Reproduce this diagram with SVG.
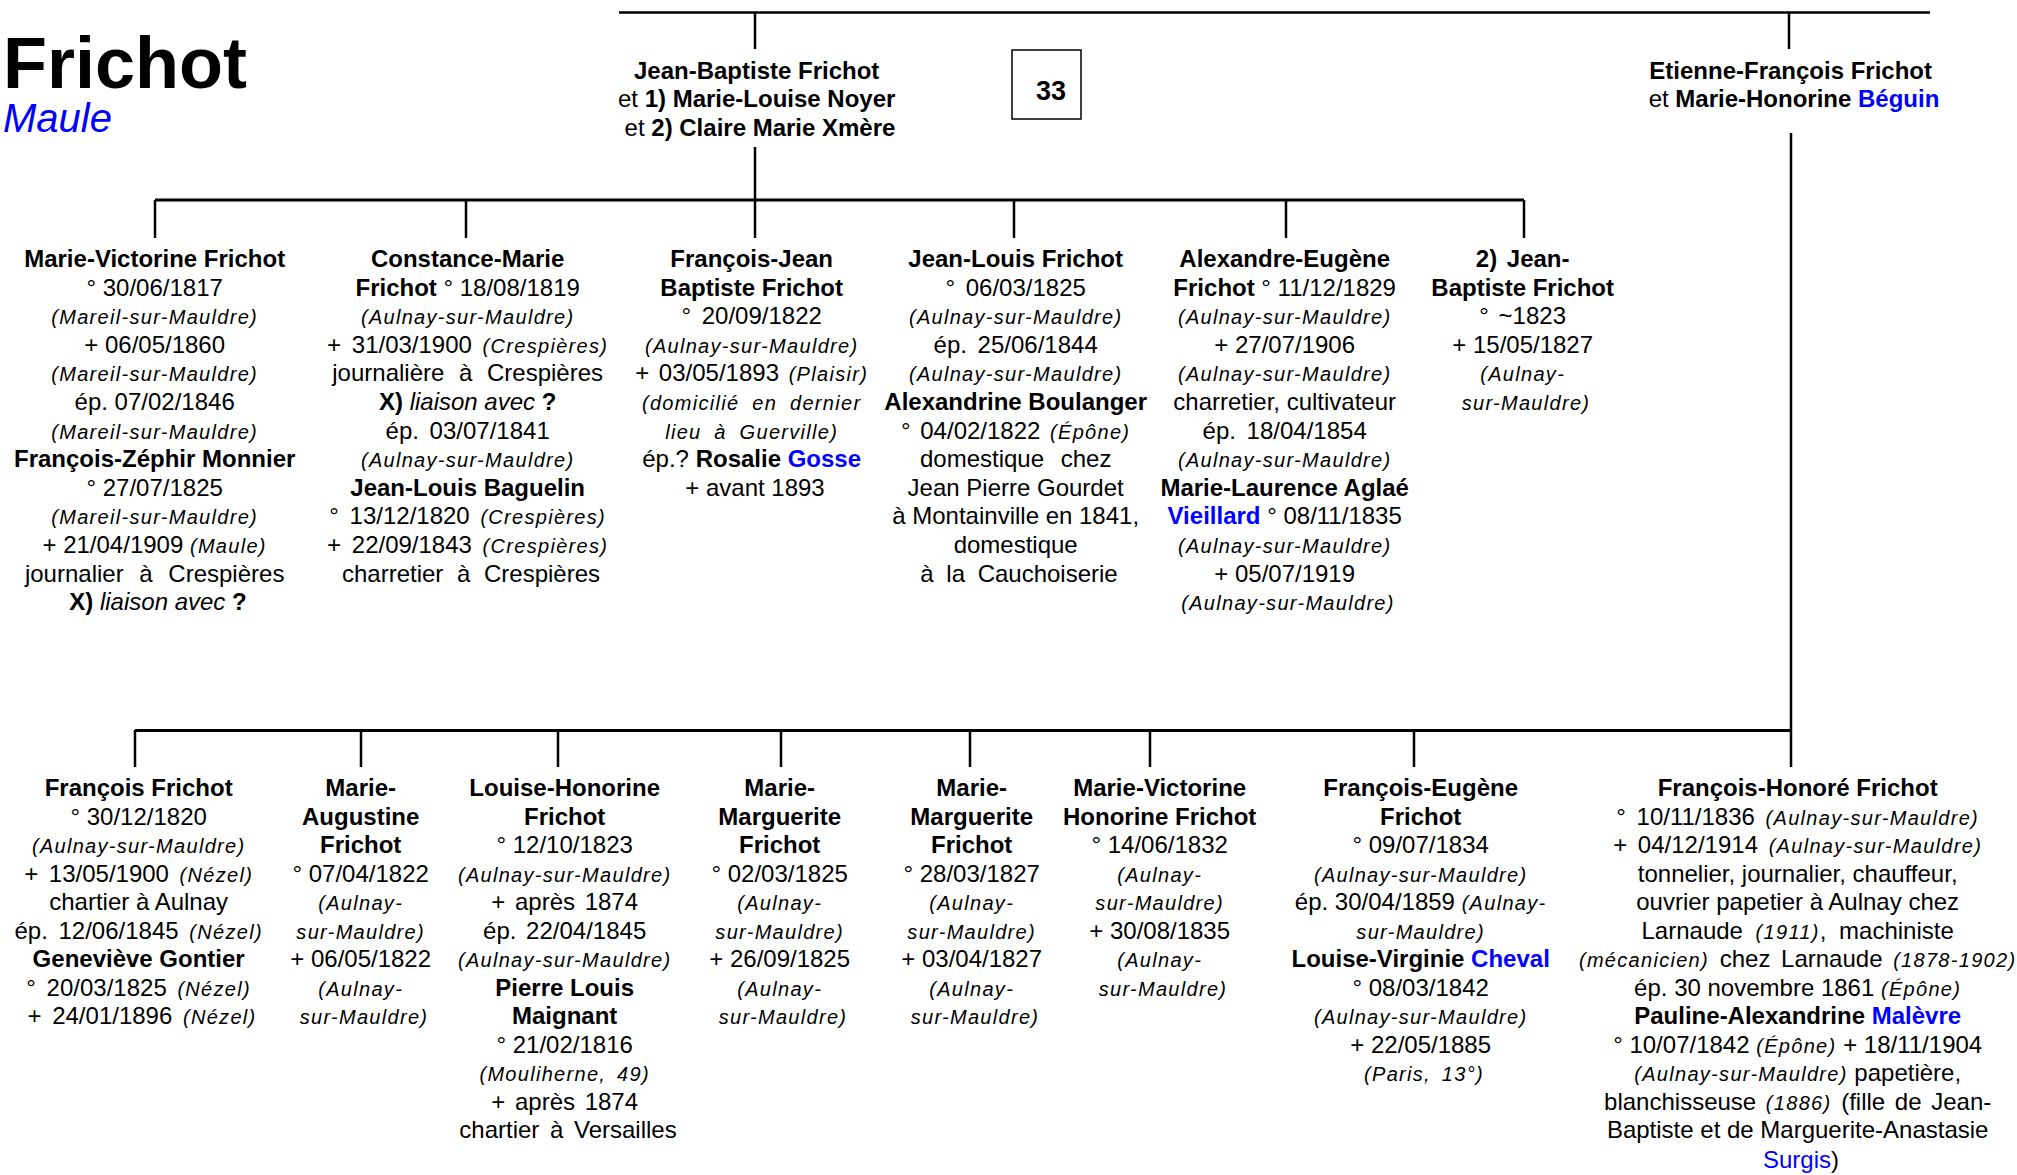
<svg xmlns="http://www.w3.org/2000/svg" width="2017" height="1175" viewBox="0 0 2017 1175">
<style>
text{font-family:"Liberation Sans",Arial,sans-serif;font-size:24px;fill:#000;text-anchor:middle}
.b{font-weight:bold}
.i{font-style:italic;font-size:20px;letter-spacing:1.3px}
.bl{fill:#0000ff}
.ln{stroke:#000;stroke-width:2.5;fill:none}
.bar{stroke:#000;stroke-width:3;fill:none}
</style>
<rect width="2017" height="1175" fill="#fff"/>
<g id="title">
<text x="3" y="88" class="b" style="font-size:72px;text-anchor:start">Frichot</text>
<text x="3" y="132" class="bl" style="font-size:40px;font-style:italic;text-anchor:start">Maule</text>
</g>
<g id="connectors">
<path class="ln" d="M619,12.5H1930"/>
<path class="ln" d="M755,12.5V49M1789,12.5V49"/>
<path class="ln" d="M755,147V200"/>
<path class="bar" d="M155,200H1524"/>
<path class="ln" d="M155,200V238M466,200V238M755,200V238M1014,200V238M1286,200V238M1524,200V238"/>
<path class="ln" d="M1791,133V767"/>
<path class="bar" d="M135,730.5H1791"/>
<path class="ln" d="M135,730V767M361,730V767M558,730V767M781,730V767M970,730V767M1150,730V767M1414,730V767"/>
</g>
<g id="box33">
<rect x="1012" y="50" width="69" height="69" fill="#fff" stroke="#000" stroke-width="1.5"/>
<text x="1051" y="100" class="b" style="font-size:27px">33</text>
</g>
<g id="parent1">
<text><tspan x="760" y="78.5" class="b">Jean-Baptiste Frichot</tspan>
<tspan x="760" y="107">et <tspan class="b">1) Marie-Louise Noyer</tspan></tspan>
<tspan x="760" y="135.5">et <tspan class="b">2) Claire Marie Xmère</tspan></tspan></text>
</g>
<g id="parent2">
<text><tspan x="1794" y="78.5" class="b">Etienne-François Frichot</tspan>
<tspan x="1794" y="107">et <tspan class="b">Marie-Honorine </tspan><tspan class="b bl">Béguin</tspan></tspan></text>
</g>
<g id="c1">
<text><tspan x="158" y="267" class="b">Marie-Victorine Frichot</tspan>
<tspan x="158" y="295.6">° 30/06/1817</tspan>
<tspan x="158" y="324.2" class="i">(Mareil-sur-Mauldre)</tspan>
<tspan x="158" y="352.8">+ 06/05/1860</tspan>
<tspan x="158" y="381.4" class="i">(Mareil-sur-Mauldre)</tspan>
<tspan x="158" y="410">ép. 07/02/1846</tspan>
<tspan x="158" y="438.6" class="i">(Mareil-sur-Mauldre)</tspan>
<tspan x="158" y="467.2" class="b">François-Zéphir Monnier</tspan>
<tspan x="158" y="495.8">° 27/07/1825</tspan>
<tspan x="158" y="524.4" class="i">(Mareil-sur-Mauldre)</tspan>
<tspan x="158" y="553">+ 21/04/1909 <tspan class="i">(Maule)</tspan></tspan>
<tspan x="158" y="581.6" style="word-spacing:9px">journalier à Crespières</tspan>
<tspan x="158" y="610.2"><tspan class="b">X)</tspan> <tspan style="font-style:italic">liaison avec</tspan> <tspan class="b">?</tspan></tspan></text>
</g>
<g id="c2">
<text><tspan x="471" y="267" class="b">Constance-Marie</tspan>
<tspan x="471" y="295.6"><tspan class="b">Frichot</tspan> ° 18/08/1819</tspan>
<tspan x="471" y="324.2" class="i">(Aulnay-sur-Mauldre)</tspan>
<tspan x="471" y="352.8" style="word-spacing:4px">+ 31/03/1900 <tspan class="i">(Crespières)</tspan></tspan>
<tspan x="471" y="381.4" style="word-spacing:8px">journalière à Crespières</tspan>
<tspan x="471" y="410"><tspan class="b">X)</tspan> <tspan style="font-style:italic">liaison avec</tspan> <tspan class="b">?</tspan></tspan>
<tspan x="471" y="438.6" style="word-spacing:4px">ép. 03/07/1841</tspan>
<tspan x="471" y="467.2" class="i">(Aulnay-sur-Mauldre)</tspan>
<tspan x="471" y="495.8" class="b">Jean-Louis Baguelin</tspan>
<tspan x="471" y="524.4" style="word-spacing:4px">° 13/12/1820 <tspan class="i">(Crespières)</tspan></tspan>
<tspan x="471" y="553" style="word-spacing:4px">+ 22/09/1843 <tspan class="i">(Crespières)</tspan></tspan>
<tspan x="471" y="581.6" style="word-spacing:7px">charretier à Crespières</tspan></text>
</g>
<g id="c3">
<text><tspan x="755" y="267" class="b">François-Jean</tspan>
<tspan x="755" y="295.6" class="b">Baptiste Frichot</tspan>
<tspan x="755" y="324.2" style="word-spacing:4px">° 20/09/1822</tspan>
<tspan x="755" y="352.8" class="i">(Aulnay-sur-Mauldre)</tspan>
<tspan x="755" y="381.4" style="word-spacing:3px">+ 03/05/1893 <tspan class="i">(Plaisir)</tspan></tspan>
<tspan x="755" y="410" class="i" style="word-spacing:6px">(domicilié en dernier</tspan>
<tspan x="755" y="438.6" class="i" style="word-spacing:6px">lieu à Guerville)</tspan>
<tspan x="755" y="467.2">ép.? <tspan class="b">Rosalie </tspan><tspan class="b bl">Gosse</tspan></tspan>
<tspan x="755" y="495.8">+ avant 1893</tspan></text>
</g>
<g id="c4">
<text><tspan x="1019" y="267" class="b">Jean-Louis Frichot</tspan>
<tspan x="1019" y="295.6" style="word-spacing:4px">° 06/03/1825</tspan>
<tspan x="1019" y="324.2" class="i">(Aulnay-sur-Mauldre)</tspan>
<tspan x="1019" y="352.8" style="word-spacing:4px">ép. 25/06/1844</tspan>
<tspan x="1019" y="381.4" class="i">(Aulnay-sur-Mauldre)</tspan>
<tspan x="1019" y="410" class="b">Alexandrine Boulanger</tspan>
<tspan x="1019" y="438.6" style="word-spacing:3px">° 04/02/1822 <tspan class="i">(Épône)</tspan></tspan>
<tspan x="1019" y="467.2" style="word-spacing:10px">domestique chez</tspan>
<tspan x="1019" y="495.8">Jean Pierre Gourdet</tspan>
<tspan x="1019" y="524.4">à Montainville en 1841,</tspan>
<tspan x="1019" y="553">domestique</tspan>
<tspan x="1019" y="581.6" style="word-spacing:6px">à la Cauchoiserie</tspan></text>
</g>
<g id="c5">
<text><tspan x="1288" y="267" class="b">Alexandre-Eugène</tspan>
<tspan x="1288" y="295.6"><tspan class="b">Frichot</tspan> ° 11/12/1829</tspan>
<tspan x="1288" y="324.2" class="i">(Aulnay-sur-Mauldre)</tspan>
<tspan x="1288" y="352.8">+ 27/07/1906</tspan>
<tspan x="1288" y="381.4" class="i">(Aulnay-sur-Mauldre)</tspan>
<tspan x="1288" y="410">charretier, cultivateur</tspan>
<tspan x="1288" y="438.6" style="word-spacing:4px">ép. 18/04/1854</tspan>
<tspan x="1288" y="467.2" class="i">(Aulnay-sur-Mauldre)</tspan>
<tspan x="1288" y="495.8" class="b">Marie-Laurence Aglaé</tspan>
<tspan x="1288" y="524.4"><tspan class="b bl">Vieillard</tspan> ° 08/11/1835</tspan>
<tspan x="1288" y="553" class="i">(Aulnay-sur-Mauldre)</tspan>
<tspan x="1288" y="581.6">+ 05/07/1919</tspan>
<tspan x="1288" y="610.2" class="i">(Aulnay-sur-Mauldre)</tspan></text>
</g>
<g id="c6">
<text><tspan x="1526" y="267" class="b" style="word-spacing:3px">2) Jean-</tspan>
<tspan x="1526" y="295.6" class="b">Baptiste Frichot</tspan>
<tspan x="1526" y="324.2" style="word-spacing:3px">° ~1823</tspan>
<tspan x="1526" y="352.8">+ 15/05/1827</tspan>
<tspan x="1526" y="381.4" class="i">(Aulnay-</tspan>
<tspan x="1526" y="410" class="i">sur-Mauldre)</tspan></text>
</g>
<g id="d1">
<text><tspan x="142" y="796" class="b">François Frichot</tspan>
<tspan x="142" y="824.5">° 30/12/1820</tspan>
<tspan x="142" y="853" class="i">(Aulnay-sur-Mauldre)</tspan>
<tspan x="142" y="881.5" style="word-spacing:4px">+ 13/05/1900 <tspan class="i">(Nézel)</tspan></tspan>
<tspan x="142" y="910">chartier à Aulnay</tspan>
<tspan x="142" y="938.5" style="word-spacing:4px">ép. 12/06/1845 <tspan class="i">(Nézel)</tspan></tspan>
<tspan x="142" y="967" class="b">Geneviève Gontier</tspan>
<tspan x="142" y="995.5" style="word-spacing:4px">° 20/03/1825 <tspan class="i">(Nézel)</tspan></tspan>
<tspan x="142" y="1024" style="word-spacing:4px">+ 24/01/1896 <tspan class="i">(Nézel)</tspan></tspan></text>
</g>
<g id="d2">
<text><tspan x="364" y="796" class="b">Marie-</tspan>
<tspan x="364" y="824.5" class="b">Augustine</tspan>
<tspan x="364" y="853" class="b">Frichot</tspan>
<tspan x="364" y="881.5">° 07/04/1822</tspan>
<tspan x="364" y="910" class="i">(Aulnay-</tspan>
<tspan x="364" y="938.5" class="i">sur-Mauldre)</tspan>
<tspan x="364" y="967">+ 06/05/1822</tspan>
<tspan x="364" y="995.5" class="i">(Aulnay-</tspan>
<tspan x="364" y="1024" class="i">sur-Mauldre)</tspan></text>
</g>
<g id="d3">
<text><tspan x="568" y="796" class="b">Louise-Honorine</tspan>
<tspan x="568" y="824.5" class="b">Frichot</tspan>
<tspan x="568" y="853">° 12/10/1823</tspan>
<tspan x="568" y="881.5" class="i">(Aulnay-sur-Mauldre)</tspan>
<tspan x="568" y="910" style="word-spacing:3px">+ après 1874</tspan>
<tspan x="568" y="938.5" style="word-spacing:3px">ép. 22/04/1845</tspan>
<tspan x="568" y="967" class="i">(Aulnay-sur-Mauldre)</tspan>
<tspan x="568" y="995.5" class="b">Pierre Louis</tspan>
<tspan x="568" y="1024" class="b">Maignant</tspan>
<tspan x="568" y="1052.5">° 21/02/1816</tspan>
<tspan x="568" y="1081" class="i" style="word-spacing:4px">(Mouliherne, 49)</tspan>
<tspan x="568" y="1109.5" style="word-spacing:3px">+ après 1874</tspan>
<tspan x="568" y="1138" style="word-spacing:4px">chartier à Versailles</tspan></text>
</g>
<g id="d4">
<text><tspan x="783" y="796" class="b">Marie-</tspan>
<tspan x="783" y="824.5" class="b">Marguerite</tspan>
<tspan x="783" y="853" class="b">Frichot</tspan>
<tspan x="783" y="881.5">° 02/03/1825</tspan>
<tspan x="783" y="910" class="i">(Aulnay-</tspan>
<tspan x="783" y="938.5" class="i">sur-Mauldre)</tspan>
<tspan x="783" y="967">+ 26/09/1825</tspan>
<tspan x="783" y="995.5" class="i">(Aulnay-</tspan>
<tspan x="783" y="1024" class="i">sur-Mauldre)</tspan></text>
</g>
<g id="d5">
<text><tspan x="975" y="796" class="b">Marie-</tspan>
<tspan x="975" y="824.5" class="b">Marguerite</tspan>
<tspan x="975" y="853" class="b">Frichot</tspan>
<tspan x="975" y="881.5">° 28/03/1827</tspan>
<tspan x="975" y="910" class="i">(Aulnay-</tspan>
<tspan x="975" y="938.5" class="i">sur-Mauldre)</tspan>
<tspan x="975" y="967">+ 03/04/1827</tspan>
<tspan x="975" y="995.5" class="i">(Aulnay-</tspan>
<tspan x="975" y="1024" class="i">sur-Mauldre)</tspan></text>
</g>
<g id="d6">
<text><tspan x="1163" y="796" class="b">Marie-Victorine</tspan>
<tspan x="1163" y="824.5" class="b">Honorine Frichot</tspan>
<tspan x="1163" y="853">° 14/06/1832</tspan>
<tspan x="1163" y="881.5" class="i">(Aulnay-</tspan>
<tspan x="1163" y="910" class="i">sur-Mauldre)</tspan>
<tspan x="1163" y="938.5">+ 30/08/1835</tspan>
<tspan x="1163" y="967" class="i">(Aulnay-</tspan>
<tspan x="1163" y="995.5" class="i">sur-Mauldre)</tspan></text>
</g>
<g id="d7">
<text><tspan x="1424" y="796" class="b">François-Eugène</tspan>
<tspan x="1424" y="824.5" class="b">Frichot</tspan>
<tspan x="1424" y="853">° 09/07/1834</tspan>
<tspan x="1424" y="881.5" class="i">(Aulnay-sur-Mauldre)</tspan>
<tspan x="1424" y="910">ép. 30/04/1859 <tspan class="i">(Aulnay-</tspan></tspan>
<tspan x="1424" y="938.5" class="i">sur-Mauldre)</tspan>
<tspan x="1424" y="967"><tspan class="b">Louise-Virginie </tspan><tspan class="b bl">Cheval</tspan></tspan>
<tspan x="1424" y="995.5">° 08/03/1842</tspan>
<tspan x="1424" y="1024" class="i">(Aulnay-sur-Mauldre)</tspan>
<tspan x="1424" y="1052.5">+ 22/05/1885</tspan>
<tspan x="1424" y="1081" class="i" style="word-spacing:4px">(Paris, 13°)</tspan></text>
</g>
<g id="d8">
<text><tspan x="1801" y="796" class="b">François-Honoré Frichot</tspan>
<tspan x="1801" y="824.5" style="word-spacing:4px">° 10/11/1836 <tspan class="i">(Aulnay-sur-Mauldre)</tspan></tspan>
<tspan x="1801" y="853" style="word-spacing:4px">+ 04/12/1914 <tspan class="i">(Aulnay-sur-Mauldre)</tspan></tspan>
<tspan x="1801" y="881.5">tonnelier,  journalier, chauffeur,</tspan>
<tspan x="1801" y="910">ouvrier papetier  à Aulnay chez</tspan>
<tspan x="1801" y="938.5" style="word-spacing:6px">Larnaude <tspan class="i">(1911)</tspan>, machiniste</tspan>
<tspan x="1801" y="967" style="word-spacing:4px"><tspan class="i">(mécanicien)</tspan> chez Larnaude <tspan class="i">(1878-1902)</tspan></tspan>
<tspan x="1801" y="995.5">ép. 30 novembre 1861 <tspan class="i">(Épône)</tspan></tspan>
<tspan x="1801" y="1024"><tspan class="b">Pauline-Alexandrine </tspan><tspan class="b bl">Malèvre</tspan></tspan>
<tspan x="1801" y="1052.5">° 10/07/1842 <tspan class="i">(Épône)</tspan> + 18/11/1904</tspan>
<tspan x="1801" y="1081"><tspan class="i">(Aulnay-sur-Mauldre)</tspan> papetière,</tspan>
<tspan x="1801" y="1109.5" style="word-spacing:3px">blanchisseuse <tspan class="i">(1886)</tspan> (fille de Jean-</tspan>
<tspan x="1801" y="1138">Baptiste et de Marguerite-Anastasie</tspan>
<tspan x="1801" y="1168"><tspan class="bl">Surgis</tspan>)</tspan></text>
</g>
</svg>
